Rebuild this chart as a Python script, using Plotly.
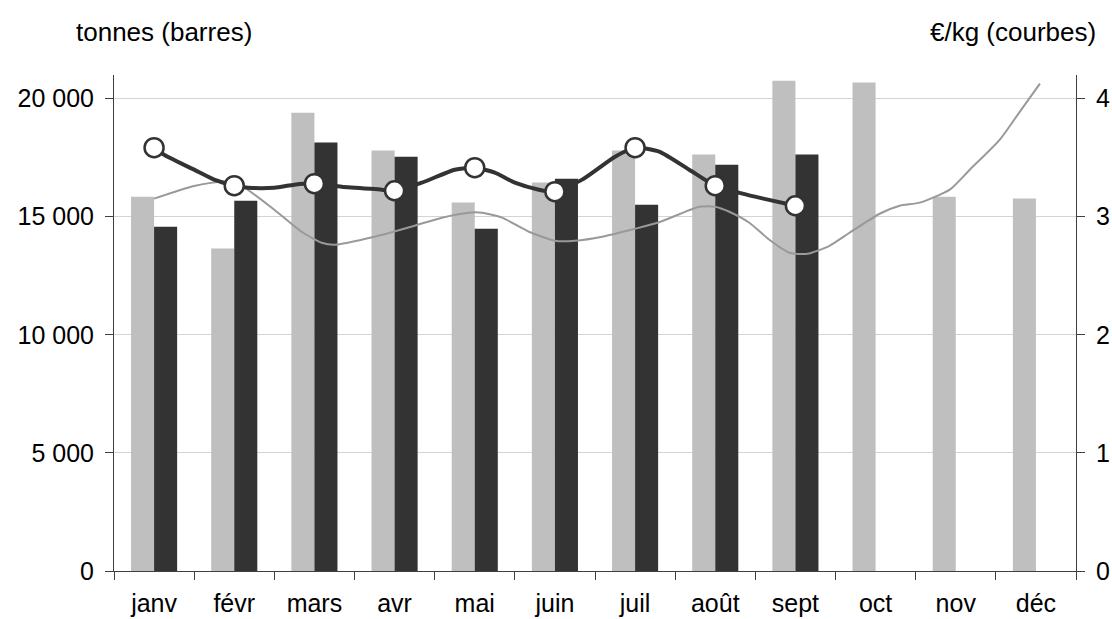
import plotly.graph_objects as go

# ---- data ----
months = ["janv", "févr", "mars", "avr", "mai", "juin", "juil", "août", "sept", "oct", "nov", "déc"]
tonnes_prev = [15850, 13650, 19400, 17800, 15600, 16450, 17800, 17630, 20760, 20680, 15850, 15770]
tonnes_cur = [14580, 15680, 18140, 17540, 14490, 16610, 15510, 17200, 17630, None, None, None]

# current-year price at each month (markers)
price_cur = [3.585, 3.263, 3.28, 3.22, 3.415, 3.212, 3.585, 3.263, 3.093]

# current-year price curve (month position, €/kg)
cur_curve_pos = [0, 0.125, 0.55, 0.75, 1.0, 1.175, 1.5, 1.75, 2.0, 2.34, 2.84, 3.0, 3.34, 3.75, 4.0,
                 4.25, 4.5, 4.8, 5.0, 5.34, 5.75, 6.0, 6.3, 6.675, 7.0, 7.34, 7.6, 8.0]
cur_curve_val = [3.585, 3.525, 3.381, 3.314, 3.263, 3.246, 3.246, 3.271, 3.28, 3.254, 3.229, 3.22, 3.288, 3.398, 3.415,
                 3.373, 3.288, 3.229, 3.212, 3.314, 3.508, 3.585, 3.551, 3.398, 3.263, 3.195, 3.153, 3.093]

# previous-year price curve (month position, €/kg)
prev_curve_pos = [0, 0.5, 0.9, 1.125, 1.5, 1.84, 2.09, 2.25, 2.75, 3.25, 3.59, 3.925, 4.09, 4.34, 4.675,
                  5.0, 5.25, 5.59, 6.0, 6.3, 6.8, 7.0, 7.175, 7.425, 7.675, 7.925, 8.15, 8.425, 8.675,
                  9.05, 9.3, 9.55, 9.925, 10.175, 10.55, 10.8, 11.05]
prev_curve_val = [3.153, 3.26, 3.30, 3.246, 3.059, 2.873, 2.78, 2.763, 2.831, 2.924, 2.992, 3.034, 3.034, 2.992, 2.873,
                  2.797, 2.797, 2.831, 2.898, 2.953, 3.085, 3.085, 3.042, 2.949, 2.805, 2.695, 2.686, 2.754, 2.864,
                  3.025, 3.093, 3.119, 3.229, 3.398, 3.653, 3.89, 4.127]

y_tickvals = [0, 5000, 10000, 15000, 20000]
y_ticktext = ["0", "5 000", "10 000", "15 000", "20 000"]
y2_tickvals = [0, 1, 2, 3, 4]

FONT = "Liberation Sans, Arial, sans-serif"
LIGHT = "#bfbfbf"
DARK = "#333333"
AX = "#404040"

fig = go.Figure()
fig.add_trace(go.Bar(x=months, y=tonnes_prev, marker=dict(color=LIGHT, line=dict(width=0)), name="prev"))
fig.add_trace(go.Bar(x=months, y=tonnes_cur, marker=dict(color=DARK, line=dict(width=0)), name="cur"))

fig.add_trace(go.Scatter(x=prev_curve_pos, y=prev_curve_val, xaxis="x2", yaxis="y2", mode="lines",
                         line=dict(color="#999999", width=2, shape="spline", smoothing=0.6)))
fig.add_trace(go.Scatter(x=cur_curve_pos, y=cur_curve_val, xaxis="x2", yaxis="y2", mode="lines",
                         line=dict(color=DARK, width=4, shape="spline", smoothing=0.6)))
fig.add_trace(go.Scatter(x=list(range(len(price_cur))), y=price_cur, xaxis="x2", yaxis="y2", mode="markers",
                         marker=dict(size=19, color="white", line=dict(color=DARK, width=2.5))))

fig.update_layout(
    width=1112, height=619,
    margin=dict(l=114, r=36, t=75, b=48),
    paper_bgcolor="white", plot_bgcolor="white",
    showlegend=False,
    barmode="group", bargap=0.425, bargroupgap=0,
    font=dict(family=FONT, size=25, color="black"),
    xaxis=dict(type="category", range=[-0.5, 11.5], tickson="boundaries", ticks="outside", ticklen=8,
               tickcolor=AX, showline=True, linecolor=AX, linewidth=1, showgrid=False, automargin=False,
               tickfont=dict(size=25), ticklabelstandoff=10),
    xaxis2=dict(overlaying="x", range=[-0.5, 11.5], visible=False),
    yaxis=dict(range=[0, 21000], tickvals=y_tickvals, ticktext=y_ticktext, ticks="outside", ticklen=8,
               tickcolor=AX, showline=True, linecolor=AX, linewidth=1, automargin=False,
               showgrid=True, gridcolor="#d4d4d4", gridwidth=1, zeroline=False,
               tickfont=dict(size=25), ticklabelstandoff=6),
    yaxis2=dict(overlaying="y", side="right", range=[0, 4.2], tickvals=y2_tickvals, ticks="outside",
                ticklen=8, tickcolor=AX, showline=True, linecolor=AX, linewidth=1, automargin=False,
                showgrid=False, zeroline=False, tickfont=dict(size=25), ticklabelstandoff=6),
    annotations=[
        dict(text="tonnes (barres)", xref="paper", yref="paper", x=(74 - 114) / 962, y=(571 - 32) / 496,
             xanchor="left", yanchor="middle", showarrow=False, font=dict(size=26)),
        dict(text="€/kg (courbes)", xref="paper", yref="paper", x=(1098 - 114) / 962, y=(571 - 32) / 496,
             xanchor="right", yanchor="middle", showarrow=False, font=dict(size=26)),
    ],
)

fig.write_html("out.html", config={"displayModeBar": False},
               post_script="document.body.style.margin='0px';document.body.style.overflow='hidden';")
